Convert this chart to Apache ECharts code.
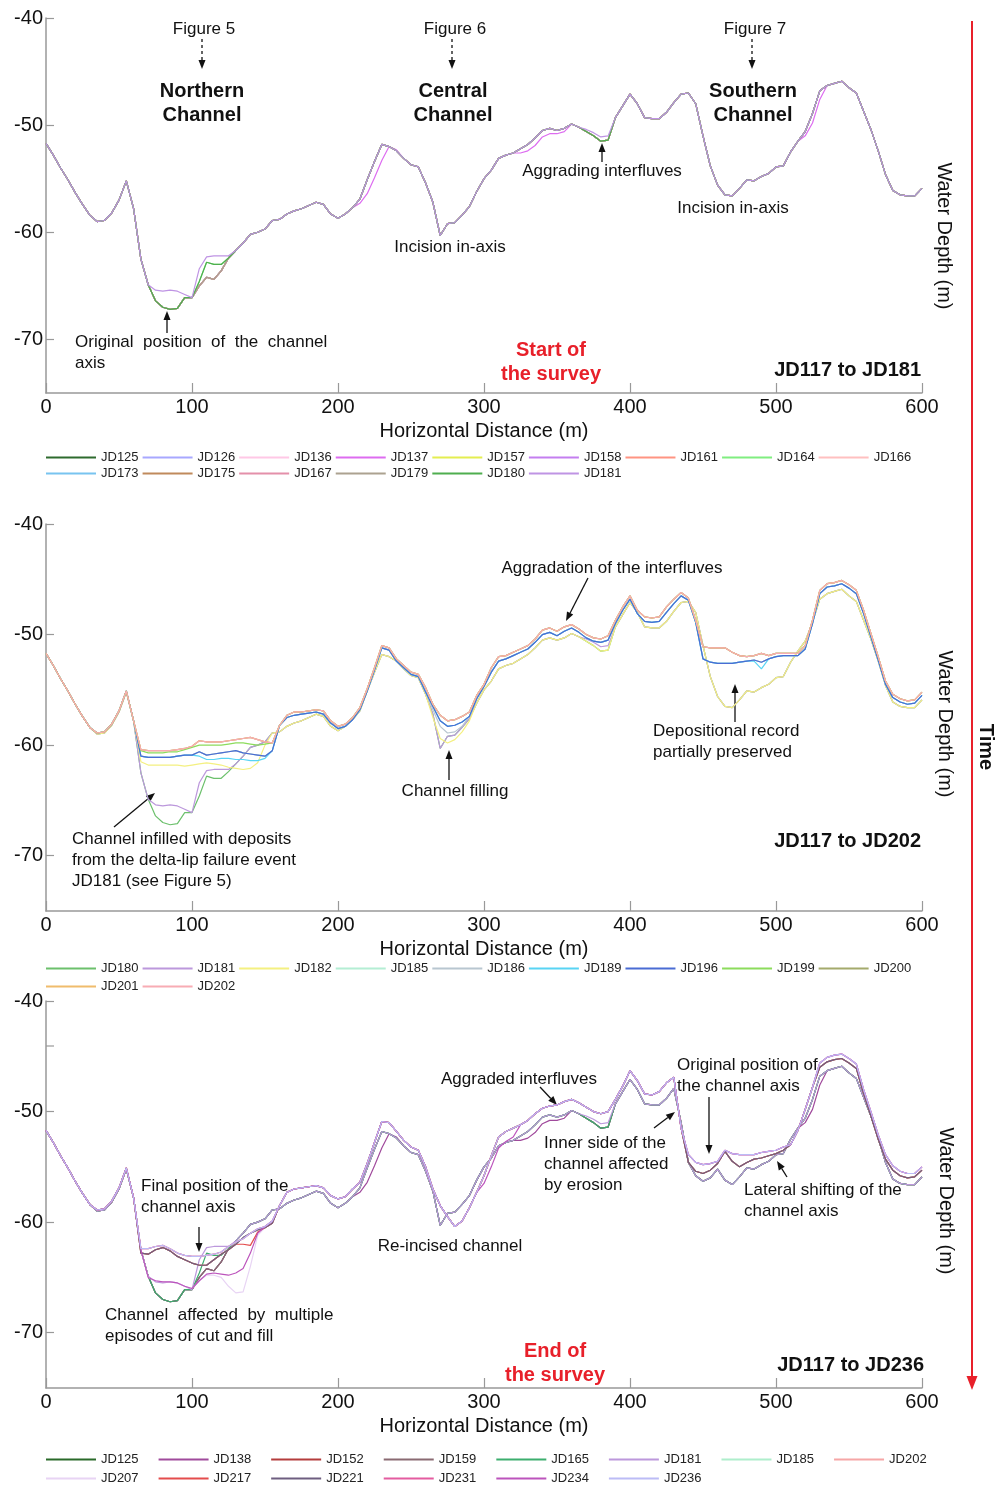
<!DOCTYPE html>
<html>
<head>
<meta charset="utf-8">
<script src="https://cdn.jsdelivr.net/npm/echarts@6/dist/echarts.min.js"></script>
<style>
  html, body { margin: 0; padding: 0; background: #fff; }
  #chart { width: 995px; height: 1487px; }
</style>
</head>
<body>
<div id="chart"></div>
<script>
// horizontal distance (m), one profile sample every 5 m
const X = [0,5,10,15,20,25,30,35,40,45,50,55,60,65,70,75,80,85,90,95,
  100,105,110,115,120,125,130,135,140,145,150,155,160,165,170,175,180,185,190,195,
  200,205,210,215,220,225,230,235,240,245,250,255,260,265,270,275,280,285,290,295,
  300,305,310,315,320,325,330,335,340,345,350,355,360,365,370,375,380,385,390,395,
  400,405,410,415,420,425,430,435,440,445,450,455,460,465,470,475,480,485,490,495,
  500,505,510,515,520,525,530,535,540,545,550,555,560,565,570,575,580,585,590,595,600];

// older surveys (JD125 ... JD179), water depth in m
const P1_BASE = [-51.7,-52.8,-54.0,-55.1,-56.3,-57.4,-58.4,-59.0,-58.9,-58.2,
  -57.0,-55.2,-57.8,-62.5,-64.9,-66.4,-67.0,-67.2,-67.1,-66.1,
  -66.1,-65.0,-64.2,-64.4,-63.6,-62.4,-61.7,-61.0,-60.2,-60.0,
  -59.7,-58.9,-58.8,-58.3,-58.0,-57.8,-57.5,-57.2,-57.4,-58.3,
  -58.7,-58.3,-57.7,-56.9,-55.1,-53.4,-51.8,-52.0,-52.4,-53.1,
  -53.7,-53.9,-55.4,-57.2,-60.3,-59.2,-59.1,-58.4,-57.6,-56.2,
  -55.0,-54.2,-53.1,-52.8,-52.6,-52.2,-51.8,-51.2,-50.5,-50.3,
  -50.5,-50.3,-49.9,-50.2,-50.6,-51.0,-51.5,-51.4,-49.3,-48.2,
  -47.1,-48.0,-49.3,-49.4,-49.4,-48.8,-47.9,-47.1,-47.0,-48.0,
  -51.0,-53.8,-55.6,-56.5,-56.6,-55.9,-55.1,-55.2,-54.8,-54.5,
  -53.9,-53.8,-52.5,-51.5,-50.6,-48.9,-46.8,-46.3,-46.1,-45.9,
  -46.5,-47.0,-48.7,-50.4,-52.4,-54.6,-56.1,-56.5,-56.6,-56.6,-55.9];

// partial segments (first value sits at the given distance)
const P1_GREEN_STEP = [-64.6,-62.8,-63.0,-63.0,-62.4];                          // from 105
const P1_PURPLE_FILL = [-65.4,-65.5,-65.4,-65.5,-65.8,-66.1,-63.4,-62.3,-62.2,-62.2,-62.2]; // from 75
const P1_PURPLE_380 = [-50.4,-50.7,-51.1,-51.0];                                 // from 370
const P1_MAG_SLOPE = [-57.3,-56.4,-54.9,-53.3,-52.0,-52.3];                      // from 215
const P1_MAG_MID = [-52.6,-52.4,-51.9,-51.1,-50.8,-50.8,-50.6];                  // from 325
const P1_MAG_RISE = [-51.0,-49.8,-47.6];                                         // from 520

// newest lines JD117 to JD202
const P2_TOP = [-51.7,-52.8,-54.0,-55.1,-56.3,-57.4,-58.4,-58.9,-58.8,-58.1,
  -56.9,-55.1,-57.8,-60.4,-60.5,-60.5,-60.5,-60.5,-60.4,-60.3,
  -60.1,-59.6,-59.7,-59.7,-59.7,-59.6,-59.5,-59.4,-59.3,-59.5,
  -59.7,-59.8,-58.2,-57.3,-57.0,-57.0,-56.9,-56.8,-56.9,-57.8,
  -58.3,-58.1,-57.5,-56.6,-54.9,-53.0,-51.0,-51.2,-52.2,-52.8,
  -53.4,-53.6,-54.8,-56.3,-57.3,-57.8,-57.7,-57.4,-57.0,-55.5,
  -54.5,-53.0,-52.0,-51.9,-51.6,-51.3,-51.0,-50.4,-49.6,-49.4,
  -49.7,-49.3,-49.1,-49.5,-50.0,-50.3,-50.4,-50.1,-48.7,-47.5,
  -46.5,-47.8,-48.4,-48.5,-48.4,-47.5,-46.8,-46.2,-46.7,-48.7,
  -51.1,-51.2,-51.2,-51.2,-51.6,-51.9,-52.0,-51.9,-51.7,-51.9,
  -51.7,-51.7,-51.7,-51.7,-51.0,-48.7,-46.0,-45.4,-45.3,-45.1,
  -45.5,-46.0,-47.8,-49.9,-52.0,-54.2,-55.4,-55.8,-56.0,-55.9,-55.2];

const P2_MID = [-51.7,-52.8,-54.0,-55.1,-56.3,-57.4,-58.4,-58.9,-58.8,-58.1,
  -56.9,-55.1,-57.8,-61.0,-61.1,-61.1,-61.1,-61.1,-61.0,-60.9,
  -60.9,-60.6,-60.9,-60.8,-60.7,-60.6,-60.5,-60.7,-60.8,-60.9,
  -61.0,-60.5,-58.2,-57.5,-57.3,-57.2,-57.1,-57.0,-57.2,-58.0,
  -58.5,-58.3,-57.7,-56.8,-55.1,-53.2,-51.2,-51.4,-52.4,-53.0,
  -53.6,-53.8,-55.2,-56.5,-57.8,-58.3,-58.2,-57.9,-57.4,-55.8,
  -54.7,-53.4,-52.4,-52.2,-51.9,-51.6,-51.3,-50.7,-50.0,-49.8,
  -50.1,-49.7,-49.4,-49.8,-50.3,-50.6,-50.7,-50.5,-49.0,-47.8,
  -46.8,-48.1,-48.8,-48.9,-48.8,-48.0,-47.2,-46.5,-46.9,-48.9,
  -52.2,-52.5,-52.6,-52.6,-52.6,-52.5,-52.4,-52.3,-52.5,-52.2,
  -52.0,-51.9,-51.9,-51.9,-51.3,-49.0,-46.3,-45.7,-45.6,-45.4,
  -45.8,-46.3,-48.1,-50.2,-52.3,-54.5,-55.7,-56.1,-56.3,-56.2,-55.5];

const P2_YEL_N = [-61.5,-61.8,-61.8,-61.8,-61.8,-61.8,-61.9,-61.8,-61.7,-61.6,-61.7,-61.8,-62.0,-62.1,-62.2,-62.1,-61.6,-60.0]; // from 65
const P2_YEL_C = [-57.5,-59.4,-59.8,-59.5,-58.8,-57.8];                          // from 265
const P2_GREY_C = [-56.8,-58.3,-58.9,-58.8,-58.3];                               // from 265
const P2_CYAN_N = [-61.0,-61.3,-61.3,-61.2,-61.2,-61.3,-61.3,-61.4,-61.4,-61.2]; // from 105
const P2_CYAN_S = [-52.4,-53.1,-52.2];                                            // from 485
const P2_GRN_N = [-60.5,-60.7,-60.7,-60.7,-60.6,-60.6,-60.4,-60.2,-60.0,-60.0,-60.0,-60.0,-59.9,-59.8,-59.8,-59.9,-60.0,-59.9]; // from 65

// newest lines JD117 to JD236
const P3_TOP = [-51.7,-52.8,-54.0,-55.1,-56.3,-57.4,-58.4,-58.9,-58.8,-58.1,
  -56.9,-55.1,-57.8,-62.4,-62.4,-62.2,-62.1,-62.4,-62.8,-63.0,
  -63.1,-63.1,-63.0,-62.9,-62.7,-62.2,-61.8,-61.5,-61.0,-60.6,
  -60.4,-59.9,-58.5,-57.3,-57.0,-56.9,-56.8,-56.7,-56.9,-57.6,
  -57.9,-57.7,-57.0,-56.4,-54.7,-52.8,-50.9,-51.0,-51.8,-52.6,
  -53.2,-53.5,-55.0,-57.0,-58.5,-59.5,-60.4,-59.9,-58.7,-57.3,
  -55.8,-54.0,-52.3,-51.8,-51.5,-51.2,-50.8,-50.2,-49.7,-49.5,
  -49.4,-49.1,-48.9,-49.2,-49.6,-50.0,-50.2,-50.0,-48.9,-47.7,
  -46.3,-47.2,-48.4,-48.5,-48.2,-47.4,-46.9,-51.5,-53.9,-54.6,
  -54.8,-54.7,-54.5,-53.5,-53.8,-53.9,-53.9,-53.9,-53.7,-53.6,
  -53.5,-53.2,-53.0,-51.7,-49.8,-47.8,-45.6,-45.1,-44.9,-44.8,
  -45.2,-45.7,-48.0,-50.0,-52.1,-53.9,-54.9,-55.4,-55.6,-55.6,-55.0];

const P3_MAR_N = [-62.8,-62.9,-62.5,-62.3,-62.6,-63.1,-63.4,-63.7,-63.9,-63.9,-63.4,-62.9,-62.5,-62.0,-61.4,-61.0,-60.7,-60.5,-60.1]; // from 65
const P3_MAR_S = [-54.6,-55.4,-55.6,-55.3,-54.7,-53.6,-54.5,-55.0,-54.6,-54.3,-54.2,-54.0,-53.8,-53.5]; // from 440
const P3_MAR_R = [-46.0,-45.5,-45.3,-45.2,-45.6,-46.1,-48.4,-50.4,-52.5,-54.3,-55.3,-55.8,-56.0,-55.9,-55.3]; // from 530
const P3_RED_STEP = [-62.0,-62.0,-62.1,-60.9,-60.5];                             // from 130
const P3_DIP_N = [-62.5,-65.0,-65.3,-65.4,-65.4,-65.5,-65.8,-66.0,-65.3,-64.8,-64.8,-65.0,-65.8,-66.4,-66.3,-64.0,-61.2,-60.5]; // from 65
const P3_MAG_N = [-62.5,-65.0,-65.3,-65.4,-65.4,-65.5,-65.8,-66.0,-65.3,-64.7,-64.6,-64.7,-64.8,-64.6,-64.2,-62.8,-61.0,-60.4]; // from 65
const P3_MAG_C = [-56.5,-55.0,-53.3,-52.7,-52.3];                                // from 300
const P3_OLD_S = [-51.0,-54.6,-55.8,-56.3,-56.0,-55.2,-56.2,-56.6];              // from 435

function patch(base, segs) {
  var out = base.slice();
  segs.forEach(function (s) {
    var i0 = X.indexOf(s[0]);
    s[1].forEach(function (v, k) { out[i0 + k] = v; });
  });
  return out;
}

var P1_GREEN = patch(P1_BASE, [[105, P1_GREEN_STEP]]);
var P1_PURPLE = patch(P1_BASE, [[75, P1_PURPLE_FILL], [370, P1_PURPLE_380]]);
var P1_MAG = patch(P1_BASE, [[215, P1_MAG_SLOPE], [325, P1_MAG_MID], [520, P1_MAG_RISE]]);
var P2_YEL = patch(P1_BASE, [[65, P2_YEL_N], [265, P2_YEL_C]]);
var P2_GREY = patch(P2_MID, [[265, P2_GREY_C]]);
var P2_CYAN = patch(P2_MID, [[105, P2_CYAN_N], [485, P2_CYAN_S]]);
var P2_GRN = patch(P2_TOP, [[65, P2_GRN_N]]);
var P3_MAR = patch(P3_TOP, [[65, P3_MAR_N], [440, P3_MAR_S], [530, P3_MAR_R]]);
var P3_RED = patch(P3_MAR, [[130, P3_RED_STEP]]);
var P3_DIP = patch(P3_TOP, [[65, P3_DIP_N]]);
var P3_MAG = patch(P3_TOP, [[65, P3_MAG_N], [300, P3_MAG_C]]);
var P3_OLD = patch(P1_BASE, [[435, P3_OLD_S]]);
var P3_OLD_MAG = patch(P1_MAG, [[435, P3_OLD_S]]);
var P3_OLD_GREEN = patch(P1_GREEN, [[435, P3_OLD_S]]);
var P3_OLD_PURPLE = patch(P1_PURPLE, [[435, P3_OLD_S]]);

const PANEL1 = [
  ['JD125', '#2e6b2e', P1_BASE], ['JD126', '#a8a8ff', P1_BASE], ['JD136', '#ffc8e6', P1_BASE],
  ['JD137', '#dd6cf0', P1_MAG], ['JD157', '#e4ee50', P1_BASE], ['JD158', '#c47ef0', P1_BASE],
  ['JD161', '#ff9482', P1_BASE], ['JD164', '#80ee80', P1_GREEN], ['JD166', '#ffc0c0', P1_BASE],
  ['JD173', '#78c4f0', P1_BASE], ['JD175', '#c08a5c', P1_BASE], ['JD167', '#e490aa', P1_BASE],
  ['JD179', '#aca290', P1_BASE], ['JD180', '#4fae4f', P1_GREEN], ['JD181', '#bf94e4', P1_PURPLE]
];
const PANEL2 = [
  ['JD180', '#6cc06c', P1_GREEN], ['JD181', '#bc98dc', P1_PURPLE], ['JD182', '#f4f080', P2_YEL],
  ['JD185', '#b4eed4', P2_MID], ['JD186', '#b8c6d0', P2_GREY], ['JD189', '#58d4f4', P2_CYAN],
  ['JD196', '#4a6cd4', P2_MID], ['JD199', '#8cdc5c', P2_GRN], ['JD200', '#a4aa6c', P2_TOP],
  ['JD201', '#f0bc6c', P2_TOP], ['JD202', '#f8acb4', P2_TOP]
];
const PANEL3 = [
  ['JD125', '#2a6a2a', P3_OLD], ['JD138', '#a04a9c', P3_OLD_MAG], ['JD152', '#b43c3c', P3_MAR],
  ['JD159', '#8a6a72', P3_OLD], ['JD165', '#3cae6e', P3_OLD_GREEN], ['JD181', '#bc98dc', P3_OLD_PURPLE],
  ['JD185', '#aeeecc', P3_MAR], ['JD202', '#f6a6a6', P3_TOP], ['JD207', '#e8d4f4', P3_DIP],
  ['JD217', '#e44c4c', P3_RED], ['JD221', '#6e5e80', P3_MAR], ['JD231', '#e45ca0', P3_TOP],
  ['JD234', '#bc54bc', P3_MAG], ['JD236', '#bcbcf6', P3_TOP]
];
const ROW_SPLIT = [9, 9, 8];

var FONT = '"Liberation Sans", Arial, sans-serif';
var chart = echarts.init(document.getElementById('chart'));
var panels = [PANEL1, PANEL2, PANEL3];
var grids = [
  { left: 46, top: 18, width: 876, height: 375 },
  { left: 46, top: 524, width: 876, height: 387 },
  { left: 46, top: 1001, width: 876, height: 387 }
];
var legendRows = [[451, 467], [962, 980], [1453, 1472]];
var legendGap = [4, 4, 20];

var xAxes = [], yAxes = [], series = [], legends = [];
panels.forEach(function (p, g) {
  var tag = '\u200b'.repeat(g);
  xAxes.push({
    gridIndex: g, type: 'value', min: 0, max: 600, interval: 100,
    axisLine: { lineStyle: { color: '#999', width: 1.5 } },
    axisTick: { inside: true, length: 10, lineStyle: { color: '#999', width: 1.2 } },
    axisLabel: { fontSize: 20, color: '#111', fontFamily: FONT, margin: 4 },
    splitLine: { show: false },
    name: 'Horizontal Distance (m)', nameLocation: 'middle', nameGap: 28,
    nameTextStyle: { fontSize: 20, color: '#111', fontFamily: FONT }
  });
  yAxes.push({
    gridIndex: g, type: 'value', min: -75, max: -40, interval: 5,
    axisLine: { show: true, lineStyle: { color: '#999', width: 1.5 } },
    axisTick: { show: true, inside: true, length: 8, customValues: [-70, -60, -50, -40], lineStyle: { color: '#999', width: 1.2 } },
    axisLabel: { fontSize: 20, color: '#111', fontFamily: FONT, margin: 3, customValues: [-70, -60, -50, -40],
      formatter: function (v) { return v % 10 === 0 ? String(v) : ''; } },
    splitLine: { show: false }
  });
  p.forEach(function (s) {
    series.push({
      name: s[0] + tag, type: 'line', xAxisIndex: g, yAxisIndex: g,
      data: X.map(function (x, i) { return [x, s[2][i]]; }),
      symbol: 'none', color: s[1],
      lineStyle: { width: 1.2, color: s[1] },
      animation: false, silent: true
    });
  });
  var names = p.map(function (s) { return s[0] + tag; });
  [names.slice(0, ROW_SPLIT[g]), names.slice(ROW_SPLIT[g])].forEach(function (row, r) {
    legends.push({
      data: row, left: 46, top: legendRows[g][r], orient: 'horizontal',
      icon: 'rect', itemWidth: 50, itemHeight: 2, itemGap: legendGap[g], padding: 0,
      selectedMode: false,
      textStyle: { fontSize: 13, color: '#222', fontFamily: FONT },
      formatter: function (n) { return n.replace(/\u200b/g, ''); }
    });
  });
});

function txt(x, y, s, o) {
  o = o || {};
  return {
    type: 'text', x: x, y: y, rotation: o.rot || 0, silent: true,
    style: {
      text: s, fill: o.color || '#111',
      font: (o.bold ? 'bold ' : '') + (o.size || 17) + 'px ' + FONT,
      align: o.align || 'center', textAlign: o.align || 'center',
      verticalAlign: 'middle', textVerticalAlign: 'middle',
      lineHeight: o.lh || 21
    }
  };
}
function arrow(x1, y1, x2, y2, dashed) {
  var a = Math.atan2(y2 - y1, x2 - x1), L = 9, W = 3.5;
  var bx = x2 - L * Math.cos(a), by = y2 - L * Math.sin(a);
  var px = -Math.sin(a) * W, py = Math.cos(a) * W;
  return [
    { type: 'line', silent: true, shape: { x1: x1, y1: y1, x2: bx, y2: by },
      style: { stroke: '#111', lineWidth: 1.3, lineDash: dashed ? [3, 3] : null } },
    { type: 'polygon', silent: true, shape: { points: [[x2, y2], [bx + px, by + py], [bx - px, by - py]] },
      style: { fill: '#111' } }
  ];
}

var RED = '#e8202a';
var G = [];
// panel 1
G.push(txt(204, 29, 'Figure 5'), txt(455, 29, 'Figure 6'), txt(755, 29, 'Figure 7'));
G = G.concat(arrow(202, 39, 202, 69, true), arrow(452, 39, 452, 69, true), arrow(752, 39, 752, 69, true));
G.push(txt(202, 103.5, 'Northern\nChannel', { bold: true, size: 20, lh: 24 }));
G.push(txt(453, 103.5, 'Central\nChannel', { bold: true, size: 20, lh: 24 }));
G.push(txt(753, 103.5, 'Southern\nChannel', { bold: true, size: 20, lh: 24 }));
G.push(txt(602, 171, 'Aggrading interfluves'));
G = G.concat(arrow(602, 162, 602, 143));
G.push(txt(450, 247, 'Incision in-axis'), txt(733, 208, 'Incision in-axis'));
G.push(txt(75, 352.5, 'Original  position  of  the  channel\naxis', { align: 'left' }));
G = G.concat(arrow(167, 333, 167, 311));
G.push(txt(551, 362, 'Start of\nthe survey', { bold: true, size: 20, lh: 24, color: RED }));
G.push(txt(921, 370, 'JD117 to JD181', { bold: true, size: 20, align: 'right' }));
// panel 2
G.push(txt(612, 568, 'Aggradation of the interfluves'));
G = G.concat(arrow(588, 578, 566, 621));
G.push(txt(653, 741.5, 'Depositional record\npartially preserved', { align: 'left' }));
G = G.concat(arrow(735, 722, 735, 684));
G.push(txt(455, 791, 'Channel filling'));
G = G.concat(arrow(449, 780, 449, 750));
G.push(txt(72, 860, 'Channel infilled with deposits\nfrom the delta-lip failure event\nJD181 (see Figure 5)', { align: 'left' }));
G = G.concat(arrow(114, 827, 155, 793));
G.push(txt(921, 841, 'JD117 to JD202', { bold: true, size: 20, align: 'right' }));
// panel 3
G.push(txt(519, 1079, 'Aggraded interfluves'));
G = G.concat(arrow(540, 1087, 557, 1105));
G.push(txt(677, 1075.5, 'Original position of\nthe channel axis', { align: 'left' }));
G = G.concat(arrow(709, 1097, 709, 1154));
G.push(txt(544, 1164, 'Inner side of the\nchannel affected\nby erosion', { align: 'left' }));
G = G.concat(arrow(654, 1128, 675, 1112));
G.push(txt(744, 1200.5, 'Lateral shifting of the\nchannel axis', { align: 'left' }));
G = G.concat(arrow(787, 1177, 777, 1161));
G.push(txt(141, 1196.5, 'Final position of the\nchannel axis', { align: 'left' }));
G = G.concat(arrow(199, 1227, 199, 1252));
G.push(txt(450, 1246, 'Re-incised channel'));
G.push(txt(105, 1325.5, 'Channel  affected  by  multiple\nepisodes of cut and fill', { align: 'left' }));
G.push(txt(555, 1363, 'End of\nthe survey', { bold: true, size: 20, lh: 24, color: RED }));
G.push(txt(924, 1365, 'JD117 to JD236', { bold: true, size: 20, align: 'right' }));
G.push({ type: 'line', silent: true, shape: { x1: 46, y1: 1046, x2: 54, y2: 1046 }, style: { stroke: '#999', lineWidth: 1.2 } });
// right side labels and time arrow
G.push(txt(944, 236, 'Water Depth (m)', { size: 20, rot: -Math.PI / 2 }));
G.push(txt(945, 724, 'Water Depth (m)', { size: 20, rot: -Math.PI / 2 }));
G.push(txt(946, 1201, 'Water Depth (m)', { size: 20, rot: -Math.PI / 2 }));
G.push(txt(986, 747, 'Time', { size: 20, bold: true, rot: -Math.PI / 2 }));
G.push({ type: 'line', silent: true, shape: { x1: 972, y1: 21, x2: 972, y2: 1378 }, style: { stroke: RED, lineWidth: 2 } });
G.push({ type: 'polygon', silent: true, shape: { points: [[966.5, 1376], [977.5, 1376], [972, 1390]] }, style: { fill: RED } });

chart.setOption({
  animation: false,
  backgroundColor: '#fff',
  grid: grids,
  xAxis: xAxes,
  yAxis: yAxes,
  legend: legends,
  series: series,
  graphic: { elements: G }
});
window.addEventListener('resize', function () { chart.resize(); });
</script>
</body>
</html>
